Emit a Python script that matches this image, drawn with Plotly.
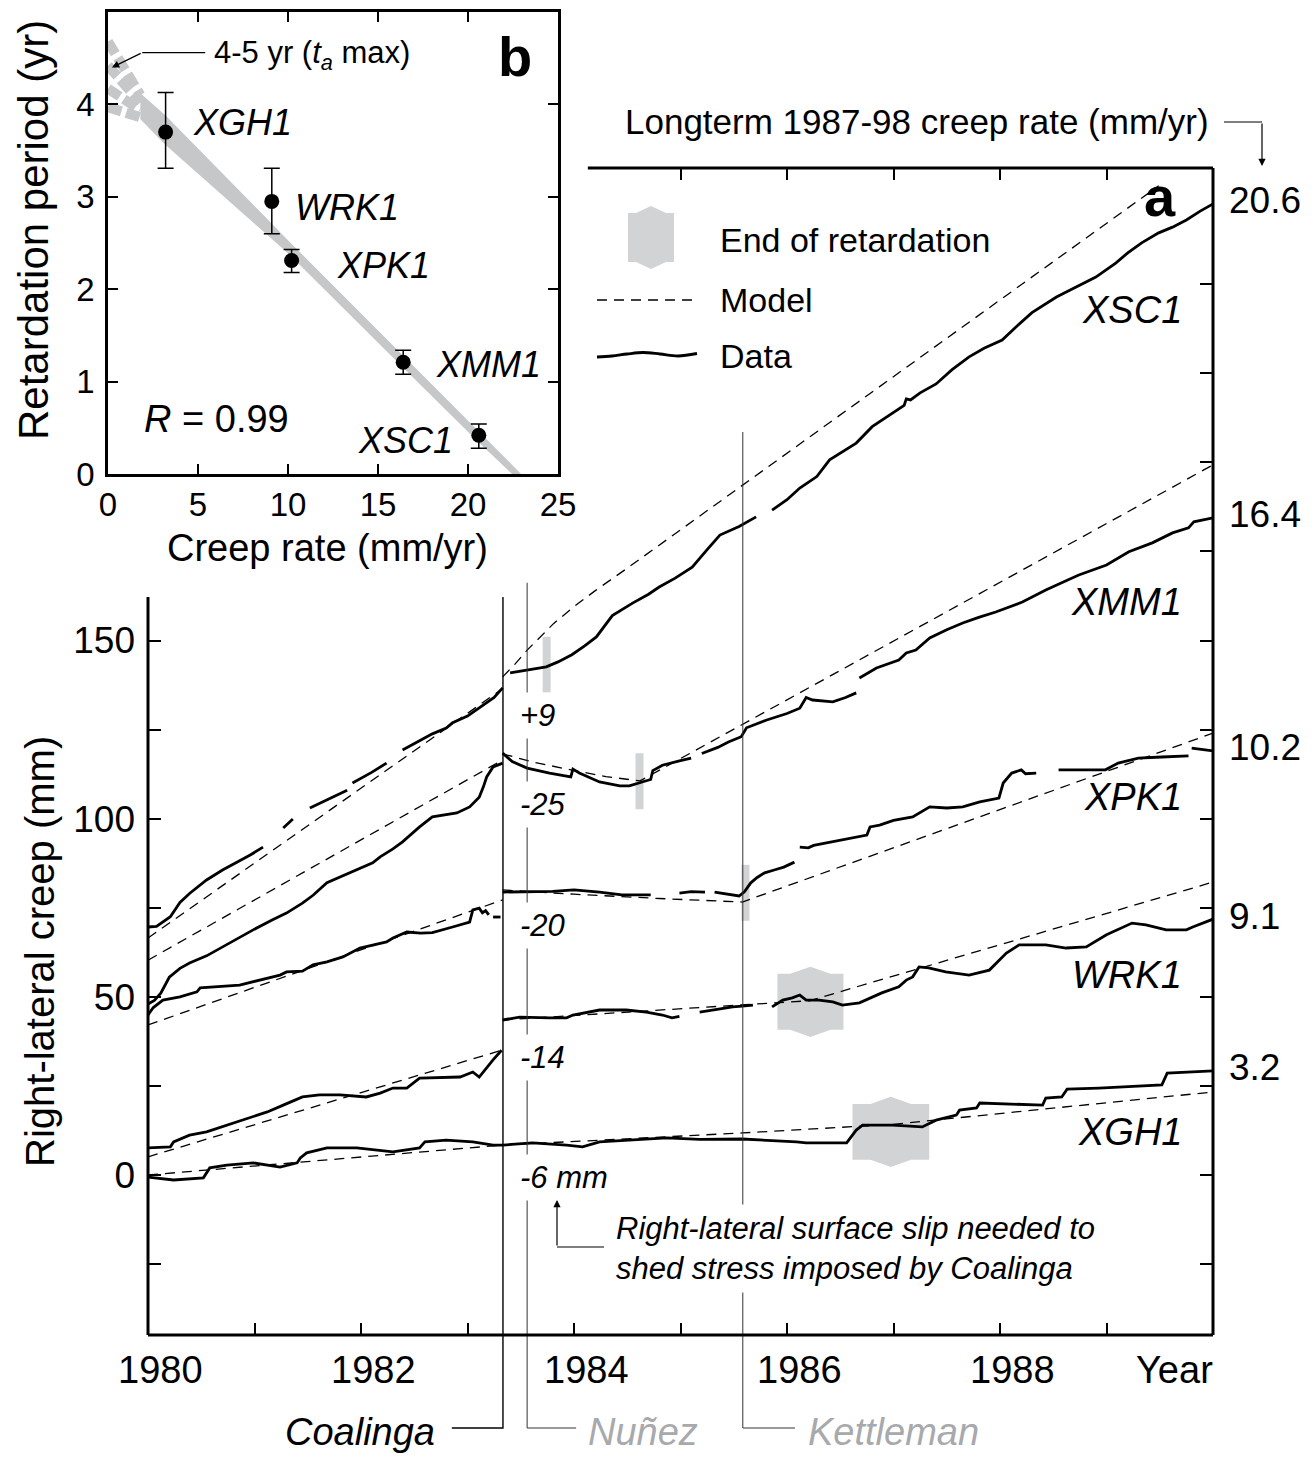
import plotly.graph_objects as go

W, H = 1314, 1457
REG = "Liberation Sans, Arial, Helvetica, sans-serif"
NAR = "Liberation Sans Narrow, Arial Narrow, Liberation Sans, Arial, sans-serif"
GRAY_MARK = "#d1d3d4"
GRAY_BAND = "#c6c7c9"
GRAY_TXT = "#a7a9ac"

# ====================== DATA : panel a ======================
stations = ["XSC1", "XMM1", "XPK1", "WRK1", "XGH1"]
longterm_rate_labels = ["20.6", "16.4", "10.2", "9.1", "3.2"]
coalinga_offsets = ["+9", "-25", "-20", "-14", "-6 mm"]

event_names = ["Coalinga", "Nuñez", "Kettleman"]
event_year = [1983.333, 1983.56, 1985.585]

# end of retardation (year, mm)
ret_end_year = [1983.743, 1984.615, 1985.61, 1986.22, 1986.975]
ret_end_mm = [143.2, 110.5, 79.2, 48.6, 12.1]

xsc1_year = [1980.00, 1980.08, 1980.21, 1980.30, 1980.39, 1980.55, 1980.70, 1980.85, 1980.96, 1981.08, None,
             1981.27, 1981.36, None,
             1981.52, 1981.70, 1981.87, None,
             1981.92, 1982.10, 1982.24, None,
             1982.39, 1982.55, 1982.67, 1982.80, 1982.86, 1983.00, 1983.11, 1983.25, 1983.33, None,
             1983.40, 1983.60, 1983.74, 1983.85, 1983.98, 1984.10, 1984.21, 1984.36, 1984.55, 1984.70, 1984.80,
             1984.95, 1985.11, 1985.25, 1985.37, 1985.55, 1985.71, None,
             1985.86, 1986.00, 1986.12, 1986.28, 1986.40, 1986.52, 1986.65, 1986.80, 1986.99, 1987.05, 1987.10,
             1987.12, 1987.16, 1987.25, 1987.40, 1987.55, 1987.71, 1987.85, 1988.02, 1988.15, 1988.30, 1988.53,
             1988.70, 1988.90, 1989.09, 1989.20, 1989.33, 1989.49, 1989.62, 1989.75, 1989.88, 1990.00]
xsc1_mm = [69.6, 69.8, 72.5, 76.5, 79.0, 82.8, 85.6, 88.0, 89.8, 92.0, None,
           97.4, 99.9, None,
           103.0, 105.5, 108.0, None,
           110.0, 113.0, 115.6, None,
           119.3, 121.8, 123.8, 125.4, 126.9, 128.8, 131.0, 134.0, 136.7, None,
           140.9, 141.8, 142.6, 144.0, 146.0, 148.5, 151.0, 157.0, 160.5, 163.0, 165.0,
           167.5, 170.6, 175.5, 179.6, 182.0, 184.7, None,
           186.6, 189.5, 192.8, 196.0, 200.7, 203.0, 205.4, 210.0, 213.9, 215.0, 216.0,
           217.8, 217.5, 219.5, 222.0, 226.0, 229.6, 232.0, 234.3, 238.0, 242.0, 246.4,
           249.0, 252.0, 256.0, 258.8, 261.6, 264.4, 266.0, 268.0, 270.5, 272.5]
xsc1_model_year = [1980.00, 1983.33, None, 1983.33, 1983.45, 1983.56, 1983.70, 1983.81, 1984.00, 1984.20, 1984.50, 1989.49]
xsc1_model_mm = [66.5, 136.5, None, 139.8, 143.5, 147.3, 151.5, 154.8, 159.5, 164.0, 170.3, 277.6]

xmm1_year = [1980.00, 1980.06, 1980.12, 1980.20, 1980.30, 1980.39, 1980.55, 1980.70, 1980.86, 1981.00, 1981.17,
             1981.30, 1981.45, 1981.55, 1981.68, 1981.80, 1981.92, 1982.11, 1982.18, 1982.30, 1982.39, 1982.55,
             1982.67, 1982.90, 1983.02, 1983.11, 1983.15, 1983.18, 1983.24, 1983.33, None,
             1983.33, 1983.42, 1983.56, 1983.77, 1983.97, 1983.99, 1984.05, 1984.24, 1984.43, 1984.52, 1984.64,
             1984.72, 1984.74, 1984.83, 1984.99, 1985.10, None,
             1985.20, 1985.35, 1985.45, 1985.57, 1985.62, 1985.81, 1986.00, 1986.12, 1986.18, 1986.24, 1986.43,
             1986.55, 1986.65, None,
             1986.68, 1986.84, 1987.05, 1987.12, 1987.21, 1987.34, 1987.50, 1987.65, 1987.80, 1987.96, 1988.21,
             1988.43, 1988.60, 1988.74, 1989.00, 1989.21, 1989.43, 1989.62, 1989.77, 1989.82, 1990.00]
xmm1_mm = [48.0, 49.0, 51.0, 55.5, 58.0, 59.5, 61.5, 64.0, 66.8, 69.0, 71.6,
           73.5, 76.3, 78.5, 82.0, 83.5, 85.0, 87.6, 89.3, 91.5, 93.5, 97.7,
           100.5, 101.6, 103.3, 106.0, 109.0, 111.7, 114.5, 115.6, None,
           118.4, 116.0, 114.2, 112.8, 111.7, 113.9, 112.8, 110.3, 109.2, 109.2, 110.3,
           111.0, 113.5, 115.0, 116.2, 117.0, None,
           118.3, 120.0, 121.5, 123.0, 125.5, 127.7, 129.5, 131.0, 134.0, 133.3, 132.8,
           134.0, 135.3, None,
           139.5, 142.3, 144.5, 146.5, 147.3, 150.7, 153.0, 154.9, 156.5, 158.0, 160.8,
           164.2, 166.5, 168.4, 171.2, 174.9, 177.4, 180.2, 181.6, 183.3, 184.4]
xmm1_model_year = [1980.00, 1983.33, None, 1983.33, 1983.60, 1984.00, 1984.30, 1984.62, 1990.00]
xmm1_model_mm = [60.3, 116.5, None, 118.2, 116.0, 113.5, 111.8, 110.6, 199.3]

xpk1_year = [1980.00, 1980.05, 1980.14, 1980.30, 1980.46, 1980.49, 1980.86, 1981.00, 1981.24, 1981.30, 1981.45,
             1981.55, 1981.68, 1981.83, 1981.99, 1982.11, 1982.24, 1982.30, 1982.43, 1982.56, 1982.67, 1982.86,
             1983.02, 1983.05, 1983.11, 1983.14, 1983.17, 1983.20, None,
             1983.24, 1983.31, None,
             1983.33, 1983.56, 1983.80, 1984.00, 1984.24, 1984.45, 1984.72, None,
             1984.99, 1985.10, 1985.23, None,
             1985.32, 1985.48, 1985.55, 1985.60, 1985.66, 1985.72, 1985.79, 1985.88, 1985.97, 1986.07, None,
             1986.12, 1986.20, 1986.25, 1986.43, 1986.60, 1986.75, 1986.78, 1986.87, 1987.00, 1987.18, 1987.34,
             1987.50, 1987.65, 1987.81, 1987.99, 1988.03, 1988.11, 1988.20, 1988.24, 1988.34, None,
             1988.55, 1988.99, 1989.11, 1989.30, 1989.52, 1989.77, None,
             1989.80, 1989.95, 1990.00]
xpk1_mm = [44.9, 47.0, 49.1, 50.0, 51.4, 52.5, 53.3, 54.3, 56.1, 57.0, 57.2,
           59.0, 59.8, 61.2, 63.7, 64.5, 65.4, 66.5, 68.2, 67.9, 68.0, 69.6,
           71.0, 74.4, 74.9, 73.6, 74.2, 73.0, None,
           72.4, 72.4, None,
           79.4, 79.4, 79.6, 80.0, 79.4, 78.6, 78.6, None,
           79.1, 79.5, 79.4, None,
           79.4, 78.6, 78.3, 79.5, 82.0, 83.5, 84.8, 85.6, 86.4, 87.8, None,
           92.0, 91.8, 92.5, 93.5, 94.5, 95.4, 97.7, 98.2, 99.5, 100.5, 103.3,
           103.0, 103.3, 104.7, 105.8, 110.0, 112.8, 113.7, 112.6, 112.8, None,
           113.7, 113.7, 115.6, 117.0, 117.3, 117.6, None,
           119.8, 119.2, 119.0]
xpk1_model_year = [1980.00, 1983.33, None, 1983.33, 1984.00, 1984.80, 1985.58, 1990.00]
xpk1_model_mm = [42.1, 77.2, None, 80.0, 78.8, 77.6, 76.6, 124.0]

wrk1_year = [1980.00, 1980.21, 1980.24, 1980.39, 1980.55, 1980.80, 1980.99, 1981.12, 1981.27, 1981.45, 1981.61,
             1981.80, 1982.05, 1982.18, 1982.30, 1982.43, 1982.55, 1982.80, 1982.93, 1983.05, 1983.11, 1983.24,
             1983.32, None,
             1983.33, 1983.49, 1983.77, 1983.93, 1983.99, 1984.24, 1984.49, 1984.68, 1984.83, 1984.92, 1984.99, None,
             1985.18, 1985.30, 1985.49, 1985.58, 1985.68, None,
             1985.86, 1985.96, 1986.05, 1986.12, 1986.18, 1986.30, 1986.43, 1986.52, 1986.68, 1986.89, 1987.05,
             1987.12, 1987.18, 1987.24, 1987.33, 1987.49, 1987.71, 1987.90, 1988.06, 1988.18, 1988.43, 1988.62,
             1988.81, 1989.00, 1989.24, 1989.37, 1989.56, 1989.75, 1989.81, 1990.00]
wrk1_mm = [7.6, 7.9, 9.3, 11.2, 12.1, 14.6, 16.3, 17.7, 19.6, 21.9, 22.5,
           22.5, 21.9, 23.0, 24.4, 24.4, 27.2, 27.5, 27.5, 28.9, 27.5, 32.3,
           35.0, None,
           43.5, 44.3, 44.1, 44.1, 44.9, 46.3, 46.3, 45.7, 44.9, 44.1, 44.5, None,
           45.7, 46.3, 47.2, 47.4, 47.7, None,
           47.2, 49.1, 49.7, 50.5, 49.1, 49.1, 48.6, 47.7, 48.3, 51.1, 52.8,
           54.7, 55.6, 58.4, 58.1, 57.0, 56.1, 57.5, 62.3, 64.6, 64.6, 63.7,
           64.0, 67.4, 70.7, 70.2, 68.8, 68.8, 69.6, 71.8]
wrk1_model_year = [1980.00, 1983.33, None, 1983.33, 1984.50, 1985.50, 1986.21, 1990.00]
wrk1_model_mm = [5.1, 35.1, None, 43.5, 45.8, 47.6, 48.9, 82.2]

xgh1_year = [1980.00, 1980.12, 1980.24, 1980.52, 1980.58, 1980.74, 1980.99, 1981.24, 1981.40, 1981.43, 1981.49,
             1981.68, 1981.96, 1982.30, 1982.55, 1982.60, 1982.80, 1983.05, 1983.24, 1983.33, 1983.61, 1983.93,
             1984.08, 1984.24, 1984.55, 1984.87, 1985.18, 1985.58, 1986.09, 1986.18, 1986.56, 1986.65, 1986.71,
             1986.99, 1987.27, 1987.40, 1987.59, 1987.62, 1987.78, 1987.81, 1988.40, 1988.43, 1988.58, 1988.63,
             1988.93, 1989.52, 1989.57, 1990.00]
xgh1_mm = [-0.6, -0.9, -1.4, -0.8, 2.0, 2.8, 3.4, 2.2, 3.4, 4.8, 6.2,
           7.6, 7.6, 6.5, 7.6, 9.3, 9.8, 9.3, 8.4, 8.4, 9.0, 8.4,
           7.9, 9.3, 9.8, 10.4, 10.0, 10.1, 9.3, 9.0, 9.0, 12.6, 14.0,
           14.0, 13.5, 15.4, 16.8, 18.2, 18.8, 20.2, 19.6, 21.6, 21.9, 24.1,
           24.4, 25.3, 28.6, 29.2]
xgh1_model_year = [1980.00, 1983.33, None, 1983.33, 1985.58, 1986.99, 1990.00]
xgh1_model_mm = [0.0, 8.4, None, 8.4, 11.8, 14.2, 23.3]

data_year = [xsc1_year, xmm1_year, xpk1_year, wrk1_year, xgh1_year]
data_mm = [xsc1_mm, xmm1_mm, xpk1_mm, wrk1_mm, xgh1_mm]
model_year = [xsc1_model_year, xmm1_model_year, xpk1_model_year, wrk1_model_year, xgh1_model_year]
model_mm = [xsc1_model_mm, xmm1_model_mm, xpk1_model_mm, wrk1_model_mm, xgh1_model_mm]

# ====================== DATA : panel b ======================
rate_b = [3.2, 9.1, 10.2, 16.4, 20.6]
period_b = [3.70, 2.95, 2.31, 1.21, 0.42]
err_hi_b = [0.43, 0.36, 0.12, 0.13, 0.12]
err_lo_b = [0.39, 0.35, 0.13, 0.13, 0.14]
band_upper_x = [1.8, 3.2, 10.0, 16.4, 20.6, 22.95]
band_upper_y = [4.12, 3.88, 2.53, 1.28, 0.45, 0.0]
band_lower_x = [22.45, 20.6, 16.4, 10.0, 3.2, 1.8]
band_lower_y = [0.0, 0.34, 1.15, 2.39, 3.56, 3.84]
fan_x = [0.0, 1.8]
fan_y = [[4.68, 4.10], [4.42, 4.02], [4.17, 3.94], [3.97, 3.86]]

# ====================== geometry ======================
FX0, FX1 = 148, 1213           # frame, pixels
FY_TOP, FY_BOT = 168, 1335
XR = [1980.0, 1990.0]
YR = [-44.9, 282.6]
IX0, IX1, IY_TOP, IY_BOT = 108, 558, 12, 474   # inset frame pixels

dom_x = [FX0 / W, FX1 / W]
dom_y = [1 - FY_BOT / H, 1 - FY_TOP / H]
sx = (XR[1] - XR[0]) / (dom_x[1] - dom_x[0])
sy = (YR[1] - YR[0]) / (dom_y[1] - dom_y[0])
OXR = [XR[0] - dom_x[0] * sx, XR[0] + (1 - dom_x[0]) * sx]
OYR = [YR[0] - dom_y[0] * sy, YR[0] + (1 - dom_y[0]) * sy]


def ox(px):
    return OXR[0] + px / W * (OXR[1] - OXR[0])


def oy(py):
    return OYR[0] + (1 - py / H) * (OYR[1] - OYR[0])


def P(px, py):
    return px / W, 1 - py / H


RET_HH = 7.85       # half height of end-of-retardation marks (mm)
ret_box_halfwidth = [None, None, None, 0.31, 0.36]


def ret_symbol(t, c, hw, hh, tb, te):
    xs = [t - hw, t - tb, t, t + tb, t + hw, t + hw, t + tb, t, t - tb, t - hw, t - hw]
    ys = [c + hh, c + hh, c + hh + te, c + hh, c + hh, c - hh, c - hh, c - hh - te, c - hh, c - hh, c + hh]
    return xs, ys


fig = go.Figure()

# ---- end of retardation marks (below curves)
for i in range(len(stations)):
    t, c = ret_end_year[i], ret_end_mm[i]
    hw = ret_box_halfwidth[i]
    if hw is None:
        fig.add_trace(go.Scatter(x=[t, t], y=[c - RET_HH, c + RET_HH], mode="lines",
                                 line=dict(color=GRAY_MARK, width=8), hoverinfo="skip"))
    else:
        xs, ys = ret_symbol(t, c, hw, RET_HH, 0.19, 2.0)
        fig.add_trace(go.Scatter(x=xs, y=ys, mode="lines", fill="toself", fillcolor=GRAY_MARK,
                                 line=dict(width=0, color=GRAY_MARK), hoverinfo="skip"))

# ---- models and data
for i in range(len(stations)):
    fig.add_trace(go.Scatter(x=model_year[i], y=model_mm[i], mode="lines",
                             line=dict(color="black", width=1.3, dash="10px,7px"), hoverinfo="skip"))
for i in range(len(stations)):
    fig.add_trace(go.Scatter(x=data_year[i], y=data_mm[i], mode="lines",
                             line=dict(color="black", width=2.8), hoverinfo="skip"))

# dummy traces to materialise the mirrored tick axes
fig.add_trace(go.Scatter(x=[1985], y=[0], xaxis="x3", yaxis="y", mode="markers",
                         marker=dict(opacity=0), hoverinfo="skip"))
fig.add_trace(go.Scatter(x=[1985], y=[0], xaxis="x", yaxis="y3", mode="markers",
                         marker=dict(opacity=0), hoverinfo="skip"))

# ---- overlay (full canvas) elements: events, connectors, legend samples
EV_TOP = [162.2, 166.2, 208.5]
EV_BOT = oy(1428)
EV_CONN = [-0.48, 0.46, 0.49]
EV_COLOR = ["black", "#333333", "#333333"]
EV_W = [1.4, 1.0, 1.0]
for i, t in enumerate(event_year):
    fig.add_trace(go.Scatter(x=[t, t, t + EV_CONN[i]], y=[EV_TOP[i], EV_BOT, EV_BOT], mode="lines",
                             line=dict(color=EV_COLOR[i], width=EV_W[i]), xaxis="x4", yaxis="y4",
                             hoverinfo="skip"))

# legend: symbol, dashed, data
lxs, lys = ret_symbol(ox(651), oy(237.5), ox(674) - ox(651), oy(213) - oy(237.5),
                      ox(666) - ox(651), oy(206) - oy(213))
fig.add_trace(go.Scatter(x=lxs, y=lys, mode="lines", fill="toself", fillcolor=GRAY_MARK,
                         line=dict(width=0, color=GRAY_MARK), xaxis="x4", yaxis="y4", hoverinfo="skip"))
fig.add_trace(go.Scatter(x=[ox(597), ox(695)], y=[oy(300), oy(300)], mode="lines",
                         line=dict(color="black", width=1.3, dash="10px,7px"), xaxis="x4", yaxis="y4",
                         hoverinfo="skip"))
leg_px = [597, 612, 627, 643, 660, 678, 697]
leg_py = [357, 356, 354, 352.5, 354, 356, 353.5]
fig.add_trace(go.Scatter(x=[ox(p) for p in leg_px], y=[oy(p) for p in leg_py], mode="lines",
                         line=dict(color="black", width=2.8, shape="spline"), xaxis="x4", yaxis="y4",
                         hoverinfo="skip"))

# ---- panel b traces
bx = band_upper_x + band_lower_x
by = band_upper_y + band_lower_y
fig.add_trace(go.Scatter(x=bx, y=by, mode="lines", fill="toself", fillcolor=GRAY_BAND,
                         line=dict(width=0, color=GRAY_BAND), xaxis="x2", yaxis="y2", hoverinfo="skip"))
for fy in fan_y:
    fig.add_trace(go.Scatter(x=fan_x, y=fy, mode="lines", line=dict(color=GRAY_BAND, width=10, dash="14px,5px"),
                             xaxis="x2", yaxis="y2", hoverinfo="skip"))
fig.add_trace(go.Scatter(x=rate_b, y=period_b, mode="markers",
                         marker=dict(color="black", size=15),
                         error_y=dict(type="data", array=err_hi_b, arrayminus=err_lo_b, color="black",
                                      thickness=1.5, width=8),
                         xaxis="x2", yaxis="y2", hoverinfo="skip"))

# ---- frame shapes (main panel a)
shapes = []
FL = dict(color="black", width=3)
shapes.append(dict(type="line", xref="x4", yref="y4", x0=1980, x1=1980, y0=YR[0], y1=162.2, line=FL))
shapes.append(dict(type="line", xref="x4", yref="y4", x0=1980, x1=1990, y0=YR[0], y1=YR[0], line=FL))
shapes.append(dict(type="line", xref="x4", yref="y4", x0=1990, x1=1990, y0=YR[0], y1=YR[1], line=FL))
shapes.append(dict(type="line", xref="x4", yref="y4", x0=1984.13, x1=1990, y0=YR[1], y1=YR[1], line=FL))
# connector lines (paper)
TL = dict(color="black", width=1.2)
x0p, y0p = P(1224, 122)
x1p, _ = P(1262, 122)
shapes.append(dict(type="line", xref="paper", yref="paper", x0=x0p, x1=x1p, y0=y0p, y1=y0p, line=TL))
x0p, y0p = P(557, 1247)
x1p, _ = P(604, 1247)
shapes.append(dict(type="line", xref="paper", yref="paper", x0=x0p, x1=x1p, y0=y0p, y1=y0p, line=TL))
# inset arrow horizontal part
shapes.append(dict(type="line", xref="x2", yref="y2", x0=1.9, x1=5.4, y0=4.56, y1=4.56, line=TL))

# ---- annotations
ann = []


def A(text, px, py, size, family=REG, xanchor="center", yanchor="middle", color="black", **kw):
    x, y = P(px, py)
    d = dict(text=text, x=x, y=y, xref="paper", yref="paper", showarrow=False, xanchor=xanchor,
             yanchor=yanchor, font=dict(size=size, family=family, color=color))
    d.update(kw)
    ann.append(d)


def ARROW(px_tip, py_tip, px_tail, py_tail):
    ann.append(dict(x=ox(px_tip), y=oy(py_tip), xref="x4", yref="y4",
                    ax=ox(px_tail), ay=oy(py_tail), axref="x4", ayref="y4",
                    showarrow=True, arrowhead=2, arrowsize=1.2, arrowwidth=1.2, arrowcolor="black", text=""))


# x tick labels of panel a
for yr in [1980, 1982, 1984, 1986, 1988]:
    ann.append(dict(text=str(yr), x=yr, xref="x", y=P(0, 1370)[1], yref="paper", showarrow=False,
                    xanchor="center", yanchor="middle", xshift=12,
                    font=dict(size=38, family=NAR, color="black")))
ann.append(dict(text="Year", x=1990, xref="x", y=P(0, 1370)[1], yref="paper", showarrow=False,
                xanchor="right", yanchor="middle", xshift=2, font=dict(size=38, family=NAR, color="black")))

# right-hand long-term rates placed at curve ends
for i in range(len(stations)):
    ann.append(dict(text=longterm_rate_labels[i], x=1990, xref="x", y=data_mm[i][-1], yref="y",
                    showarrow=False, xanchor="left", yanchor="middle", xshift=14, yshift=3,
                    font=dict(size=37, family=NAR, color="black")))

A("Longterm 1987-98 creep rate (mm/yr)", 1211, 122, 35, NAR, xanchor="right")
ARROW(1262, 166, 1262, 122)
A("<b>a</b>", 1160, 196, 56, REG)
A("End of retardation", 718, 240, 34, NAR, xanchor="left")
A("Model", 718, 300, 34, NAR, xanchor="left")
A("Data", 718, 356, 34, NAR, xanchor="left")

station_label_py = [310, 602, 797, 975, 1132]
for s, py in zip(stations, station_label_py):
    A("<i>" + s + "</i>", 1184, py, 38, REG, xanchor="right")

offset_py = [715, 805, 925, 1057, 1177]
for s, py in zip(coalinga_offsets, offset_py):
    A("<i>" + s + "</i>", 514, py, 31, REG, xanchor="left", bgcolor="white", borderpad=5)

A("<i>Right-lateral surface slip needed to<br>shed stress imposed by Coalinga</i>", 609, 1248, 31, REG,
  xanchor="left", align="left", bgcolor="white", borderpad=6)
ARROW(557, 1200, 557, 1247)

A("Right-lateral creep (mm)", 40, 952, 40, REG, textangle=-90)

A("<i>Coalinga</i>", 437, 1432, 38, NAR, xanchor="right")
A("<i>Nuñez</i>", 586, 1432, 38, NAR, xanchor="left", color=GRAY_TXT)
A("<i>Kettleman</i>", 806, 1432, 38, NAR, xanchor="left", color=GRAY_TXT)


# panel b annotations
def B(text, x, y, size, family=REG, xanchor="left", **kw):
    d = dict(text=text, x=x, y=y, xref="x2", yref="y2", showarrow=False, xanchor=xanchor,
             yanchor="middle", font=dict(size=size, family=family, color="black"))
    d.update(kw)
    ann.append(d)


b_label_x = [4.6, 10.3, 12.6, 18.1, 19.3]
b_label_y = [3.80, 2.88, 2.26, 1.18, 0.36]
b_anchor = ["left", "left", "left", "left", "right"]
for s, x, y, a in zip(stations[::-1], b_label_x, b_label_y, b_anchor):
    B("<i>" + s + "</i>", x, y, 36, xanchor=a)
B("<i>R</i> = 0.99", 1.9, 0.60, 38)
B("<b>b</b>", 22.6, 4.52, 56, xanchor="center")
B("4-5 yr (<i>t<sub>a</sub></i> max)", 5.8, 4.53, 31)
ann.append(dict(x=0.22, y=4.40, xref="x2", yref="y2", ax=1.9, ay=4.56, axref="x2", ayref="y2",
                showarrow=True, arrowhead=2, arrowsize=1.2, arrowwidth=1.2, arrowcolor="black", text=""))
A("Retardation period (yr)", 33, 230, 42, REG, textangle=-90)
A("Creep rate (mm/yr)", 327, 548, 38, REG)

# ---- layout
tick_common = dict(showgrid=False, zeroline=False, ticks="inside", tickcolor="black", automargin=False)
fig.update_layout(
    template="none",
    font=dict(family=REG, color="black"),
    width=W, height=H, margin=dict(l=0, r=0, t=0, b=0, pad=0), autosize=False,
    paper_bgcolor="white", plot_bgcolor="rgba(0,0,0,0)", showlegend=False,
    xaxis=dict(domain=dom_x, range=XR, anchor="y", showline=False, tickvals=list(range(1981, 1990)),
               ticklen=12, tickwidth=1.6, showticklabels=False, **tick_common),
    yaxis=dict(domain=dom_y, range=YR, anchor="x", showline=False,
               tickvals=[-25, 0, 25, 50, 75, 100, 125, 150],
               ticktext=["", "0", "", "50", "", "100", "", "150"],
               ticklen=13, tickwidth=1.6, tickfont=dict(size=37, family=NAR, color="black"),
               ticklabelstandoff=12, **tick_common),
    xaxis3=dict(overlaying="x", side="top", range=XR, anchor="y", showline=False,
                tickvals=[1985, 1986, 1987, 1988, 1989], ticklen=12, tickwidth=1.6,
                showticklabels=False, **tick_common),
    yaxis3=dict(overlaying="y", side="right", range=YR, anchor="x", showline=False,
                tickvals=[-25, 0, 25, 50, 75, 100, 125, 150, 175, 200, 225, 250],
                ticklen=13, tickwidth=1.6, showticklabels=False, **tick_common),
    xaxis2=dict(domain=[IX0 / W, IX1 / W], range=[0, 25], anchor="y2", showline=True, linewidth=2.6,
                linecolor="black", mirror="ticks", tickvals=[0, 5, 10, 15, 20, 25], ticklen=10,
                tickwidth=1.6, tickfont=dict(size=33, family=REG, color="black"),
                ticklabelstandoff=0, **tick_common),
    yaxis2=dict(domain=[1 - IY_BOT / H, 1 - IY_TOP / H], range=[0, 5], anchor="x2", showline=True,
                linewidth=2.6, linecolor="black", mirror="ticks", tickvals=[0, 1, 2, 3, 4], ticklen=10,
                tickwidth=1.6, tickfont=dict(size=33, family=REG, color="black"),
                ticklabelstandoff=4, **tick_common),
    xaxis4=dict(domain=[0, 1], range=OXR, anchor="y4", visible=False, automargin=False),
    yaxis4=dict(domain=[0, 1], range=OYR, anchor="x4", visible=False, automargin=False),
    shapes=shapes, annotations=ann,
)

fig.write_html("out.html")
